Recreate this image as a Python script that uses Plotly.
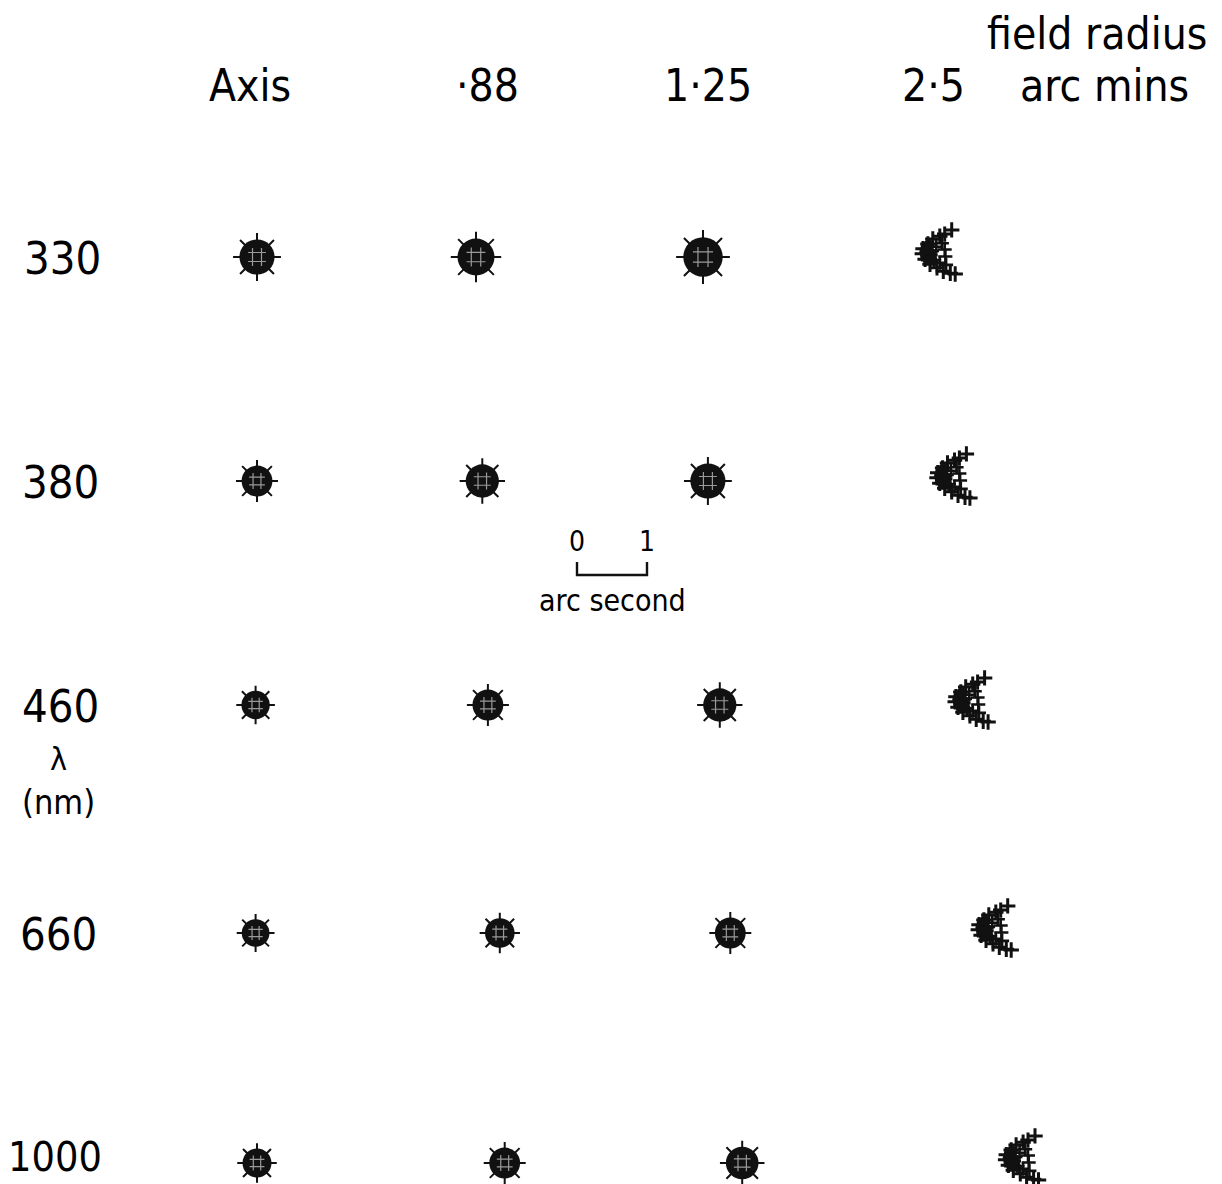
import plotly.graph_objects as go

# ---------------- data ----------------
wavelengths = ["330", "380", "460", "660", "1000"]          # nm
field_labels = ["Axis", "·88", "1·25", "2·5"]                # arc mins

# lateral shift of the image centroid (arc sec) relative to the 330 nm position, per field
shift_axis = [0.00, 0.00, -0.02, -0.02, 0.00]
shift_088 = [0.00, 0.09, 0.17, 0.34, 0.41]
shift_125 = [0.00, 0.07, 0.24, 0.39, 0.56]
shift_250 = [0.00, 0.21, 0.47, 0.80, 1.19]

# spot diameters (arc sec) for the round spots
diam_axis = [0.57, 0.50, 0.46, 0.45, 0.47]
diam_088 = [0.60, 0.54, 0.50, 0.48, 0.50]
diam_125 = [0.64, 0.57, 0.54, 0.50, 0.53]

# coma pattern at 2.5 arc min (arc sec offsets)
coma_outer_dx = [0.31, 0.21, 0.14, 0.04, -0.03, -0.10, -0.11, -0.07, 0.00, 0.10, 0.19, 0.29, 0.36]
coma_outer_dy = [-0.33, -0.27, -0.24, -0.20, -0.13, -0.06, 0.01, 0.09, 0.16, 0.21, 0.26, 0.29, 0.30]
coma_inner_dx = [0.17, 0.09, 0.03, 0.01, 0.06, 0.14, 0.23, 0.21, 0.22]
coma_inner_dy = [-0.14, -0.09, -0.03, 0.03, 0.10, 0.14, 0.17, -0.05, 0.05]
coma_core_dx = [-0.06, -0.08, -0.07, -0.03, -0.02, 0.02, 0.03]
coma_core_dy = [-0.08, -0.02, 0.04, 0.10, -0.12, 0.0, 0.08]

scale_bar = [0, 1]  # arc sec

# ---------------- layout constants ----------------
W, H = 1222, 1184
PX = 70.0                       # pixels per arc second
col_x = [257, 476, 703, 930]    # column positions (px) at 330 nm
row_y = [257, 481, 705, 933, 1163]
label_font = "DejaVu Sans Condensed, DejaVu Sans, sans-serif"
INK = "#111111"

fig = go.Figure()

def round_spots(xs, ys, sizes):
    fig.add_trace(go.Scatter(x=xs, y=ys, mode="markers", hoverinfo="skip",
                             marker=dict(symbol="asterisk-open", size=[s * 1.0 for s in sizes],
                                         color=INK, opacity=1, line=dict(color=INK, width=2))))
    fig.add_trace(go.Scatter(x=xs, y=ys, mode="markers", hoverinfo="skip",
                             marker=dict(symbol="circle", size=[s * 0.88 for s in sizes],
                                         color=INK, opacity=1, line=dict(width=0))))
    fig.add_trace(go.Scatter(x=xs, y=ys, mode="markers", hoverinfo="skip",
                             marker=dict(symbol="hash-open", size=[s * 0.45 for s in sizes],
                                         color="#9a9a9a", opacity=1,
                                         line=dict(color="#9a9a9a", width=1.2))))

for ci, (shifts, diams) in enumerate([(shift_axis, diam_axis), (shift_088, diam_088),
                                       (shift_125, diam_125)]):
    xs = [col_x[ci] + s * PX for s in shifts]
    sizes = [d * PX for d in diams]
    round_spots(xs, row_y, sizes)

# coma spots
for ri, s in enumerate(shift_250):
    cx = col_x[3] + s * PX
    cy = row_y[ri] - 4
    fig.add_trace(go.Scatter(
        x=[cx + d * PX for d in coma_outer_dx], y=[cy + d * PX for d in coma_outer_dy],
        mode="markers", hoverinfo="skip",
        marker=dict(symbol="cross-thin-open", size=11, color=INK, opacity=1,
                    line=dict(color=INK, width=3))))
    fig.add_trace(go.Scatter(
        x=[cx + d * PX for d in coma_inner_dx], y=[cy + d * PX for d in coma_inner_dy],
        mode="markers", hoverinfo="skip",
        marker=dict(symbol="cross-thin-open", size=10, color=INK, opacity=1,
                    line=dict(color=INK, width=2.6))))
    fig.add_trace(go.Scatter(
        x=[cx + d * PX for d in coma_core_dx], y=[cy + d * PX for d in coma_core_dy],
        mode="markers", hoverinfo="skip",
        marker=dict(symbol="circle", size=10, color=INK, opacity=1, line=dict(width=0))))

# scale bar
sb_x0 = 577
fig.add_trace(go.Scatter(
    x=[sb_x0 + scale_bar[0] * PX, sb_x0 + scale_bar[0] * PX,
       sb_x0 + scale_bar[1] * PX, sb_x0 + scale_bar[1] * PX],
    y=[562, 575, 575, 562], mode="lines", hoverinfo="skip",
    line=dict(color=INK, width=2.4)))

annotations = []
def txt(x, y, t, size, xanchor="center"):
    annotations.append(dict(x=x, y=y, text=t, showarrow=False, xanchor=xanchor, yanchor="middle",
                            font=dict(family=label_font, size=size, color="#000")))

for i, lab in enumerate(field_labels):
    txt([250, 487, 708, 933][i], 85, lab, 44)
txt(1104, 85, "arc mins", 44)
txt(1097, 33, "field radius", 44)

for i, w in enumerate(wavelengths[:4]):
    txt([62, 60, 60, 58][i], row_y[i] + 1, w, 45)
txt(6, 1157, wavelengths[4], 41, xanchor="left")
txt(58, 759, "λ", 32)
txt(58, 802, "(nm)", 34)

txt(sb_x0 + scale_bar[0] * PX, 541, "0", 28)
txt(sb_x0 + scale_bar[1] * PX, 541, "1", 28)
txt(612, 600, "arc second", 30)

fig.update_layout(
    width=W, height=H, margin=dict(l=0, r=0, t=0, b=0),
    paper_bgcolor="white", plot_bgcolor="white", showlegend=False,
    xaxis=dict(range=[0, W], visible=False, fixedrange=True),
    yaxis=dict(range=[H, 0], visible=False, fixedrange=True),
    annotations=annotations,
)

fig.write_html("out.html")
